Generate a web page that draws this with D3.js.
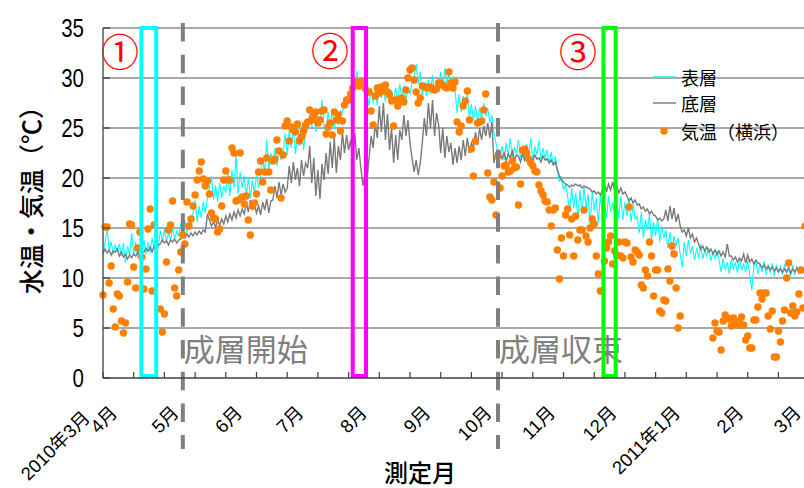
<!DOCTYPE html>
<html>
<head>
<meta charset="utf-8">
<script src="https://cdn.jsdelivr.net/npm/d3@7"></script>
<style>
  html, body { margin: 0; padding: 0; background: #fff; }
  svg { display: block; }
  text { font-family: "Liberation Sans", "Noto Sans CJK JP", sans-serif; }
  .jp { font-family: "Noto Sans CJK JP", "Liberation Sans", sans-serif; }
</style>
</head>
<body>
<svg id="chart" width="804" height="488"></svg>
<script>
// Daily readings starting 2010-03-24 (index 0), one value per day.
const startDate = new Date(2010, 2, 24);
const endDate = new Date(2011, 2, 1, 12);

// 表層 (surface water temperature, °C)
const surfaceTemp = [
  12.6,13.5,15.0,12.8,13.6,12.4,13.3,12.7,
  13.4,12.2,13.5,11.5,13.2,12.3,14.5,12.4,13.6,12.0,13.4,12.6,
  13.8,12.4,13.6,12.5,14.0,12.8,13.5,13.0,
  14.8,13.6,14.9,13.5,14.6,13.8,15.0,13.9,14.7,14.2,
  15.5,14.2,15.8,14.5,
  16.0,15.0,16.5,17.8,15.6,17.2,16.0,17.6,16.5,
  18.0,19.0,20.2,17.8,19.3,17.6,19.5,18.0,19.2,
  18.5,20.5,18.2,20.8,19.0,22.3,18.4,20.6,19.0,
  20.2,18.2,20.0,18.0,19.8,18.5,20.4,19.0,
  20.2,22.0,20.5,23.8,20.8,22.5,
  21.5,23.0,21.2,22.8,21.8,
  22.6,24.5,22.3,24.8,23.0,25.0,22.4,24.2,23.2,25.2,22.8,24.6,
  24.8,26.5,25.0,26.8,24.6,26.2,25.2,27.8,25.0,
  24.8,26.6,25.0,26.8,24.9,26.4,25.3,26.7,
  26.5,27.6,27.0,28.2,
  28.8,30.2,29.0,30.7,29.2,30.0,28.9,29.8,
  28.5,27.2,29.0,27.5,28.8,27.3,29.2,28.0,
  29.0,27.6,29.2,27.8,28.8,27.5,29.0,
  27.8,29.4,28.0,29.2,27.6,29.0,28.4,29.5,
  30.2,31.4,29.4,30.6,
  28.0,29.6,28.2,29.8,28.4,30.3,28.6,29.8,
  29.0,30.6,29.2,31.0,29.4,30.5,28.9,30.2,
  28.8,26.5,28.4,26.6,28.2,27.0,28.5,
  26.0,27.4,25.8,27.2,25.6,27.0,25.9,27.5,26.2,27.0,25.5,26.3,
  24.5,23.5,22.6,
  22.0,23.2,21.8,23.5,22.2,24.0,21.9,23.0,22.4,23.8,22.0,23.2,
  21.6,23.4,22.0,24.0,21.8,23.2,22.3,23.8,21.7,23.0,22.0,22.8,21.4,22.6,21.3,22.2,
  20.8,19.6,20.2,18.8,19.4,
  18.2,16.6,19.0,17.0,18.5,15.8,18.8,16.4,19.2,17.0,18.4,15.2,18.6,16.8,18.0,15.5,18.2,
  16.4,17.8,16.0,18.2,16.6,17.6,16.2,
  17.8,16.0,18.2,15.8,17.6,16.2,18.0,15.6,17.4,15.9,
  16.2,14.5,16.6,14.0,15.8,14.8,16.4,13.8,15.6,14.2,16.0,13.6,15.2,14.0,
  14.8,13.0,14.6,12.6,14.2,13.2,14.0,12.4,11.0,13.6,12.2,13.8,12.4,
  13.2,11.8,13.0,12.0,13.3,11.9,12.8,12.2,13.0,11.7,12.6,12.0,12.8,
  11.8,10.6,12.0,10.8,11.6,10.4,11.9,10.9,11.5,10.5,12.0,10.8,11.4,10.6,11.8,10.2,8.8,11.2,
  11.6,10.4,11.4,10.6,11.7,10.3,11.2,10.5,11.5,10.2,11.3,10.6,
  11.2,10.3,11.4,10.5,11.0,10.2,11.3,10.4,11.1,10.6,10.9,10.5
];

// 底層 (bottom water temperature, °C)
const bottomTemp = [
  12.4,12.9,12.5,12.8,12.3,12.7,12.6,12.9,
  12.2,12.6,12.1,12.4,11.9,12.3,12.0,12.4,12.2,12.6,12.3,12.7,
  12.6,13.0,12.7,13.1,12.6,13.2,12.9,13.3,
  13.4,13.8,13.5,13.7,13.3,13.8,13.6,13.9,13.5,13.8,
  13.9,14.2,14.0,14.4,14.1,14.5,14.2,14.6,14.3,
  14.7,14.4,14.8,14.6,
  16.3,
  15.8,15.2,15.6,15.1,15.7,15.3,15.9,15.4,
  16.2,15.6,16.4,15.8,16.6,16.0,16.8,16.2,16.9,
  16.4,17.5,16.6,17.8,16.9,17.4,16.5,17.2,
  16.3,17.6,16.8,17.9,16.5,17.7,
  17.8,19.2,18.0,19.6,18.3,19.4,18.6,
  19.0,21.2,19.5,21.6,19.8,21.0,19.2,21.8,20.2,21.5,
  21.0,23.2,19.5,22.0,18.2,20.8,17.9,21.4,19.8,
  22.5,20.4,23.6,21.0,24.0,20.5,23.2,21.8,
  24.5,22.5,24.3,22.8,
  23.8,22.0,24.5,21.8,23.0,
  21.0,19.2,20.5,19.8,
  22.0,24.2,23.0,25.5,
  24.0,27.2,24.6,27.5,23.8,26.4,
  22.8,25.0,21.5,24.3,21.8,24.8,
  23.8,26.3,24.2,25.8,23.5,
  22.0,20.6,21.8,20.3,21.5,
  23.5,26.0,24.2,27.5,25.0,27.8,24.2,26.5,
  25.3,22.5,25.0,22.0,24.2,22.6,
  23.5,21.3,23.0,21.5,23.2,21.8,
  23.8,22.2,24.0,22.5,23.5,
  23.0,24.6,23.3,25.0,23.8,25.2,24.2,
  25.5,24.0,25.6,
  21.5,22.6,
  21.8,22.6,21.9,22.5,21.7,22.4,22.0,22.7,21.8,22.3,
  22.2,21.6,22.4,21.8,22.3,21.6,22.1,21.7,22.3,21.9,22.0,21.6,22.2,21.8,21.9,21.5,21.8,21.3,21.6,
  20.8,20.2,19.8,19.6,19.4,
  19.3,19.1,19.3,19.2,19.4,19.2,19.3,19.0,19.2,19.1,19.0,
  18.9,18.6,18.7,18.4,18.6,18.3,18.8,
  19.5,18.6,19.4,18.8,19.6,18.7,19.2,18.5,19.0,18.4,18.6,
  18.2,17.7,18.0,17.5,17.8,17.3,
  17.4,16.9,17.1,16.7,16.9,16.4,16.7,16.3,
  16.2,15.8,16.0,15.7,15.9,
  16.8,15.7,17.2,15.9,17.0,15.6,16.4,
  15.2,14.6,14.8,14.2,15.0,14.0,14.4,13.6,14.0,
  13.4,12.9,13.2,12.7,13.1,12.6,12.9,12.4,12.8,12.3,12.7,12.2,12.6,12.1,
  13.4,12.2,
  12.2,11.8,12.1,11.6,12.0,11.7,12.4,11.5,12.3,11.6,11.9,11.4,11.8,11.5,
  11.4,11.0,11.3,10.9,11.2,10.8,11.1,10.7,11.0,10.6,10.9,10.6,10.9,
  10.6,11.0,10.5,10.9,10.6,11.0,10.5,10.8,10.6
];

// 気温（横浜） daily air temperature, °C (null = no reading)
const airTemp = [
  8.3,15.1,15.1,9.5,11.2,6.9,5.1,8.4,8.2,5.7,
  4.5,5.5,9.6,15.4,15.3,11.1,9.0,13.0,14.6,12.1,
  8.9,10.9,14.9,16.9,8.7,15.3,null,null,6.9,4.6,
  6.4,11.6,14.8,15.3,17.7,9.0,8.2,10.8,12.6,14.3,
  13.4,17.6,15.2,15.9,17.2,18.3,19.8,20.7,21.6,19.9,
  19.2,19.7,18.4,16.5,16.0,15.9,14.6,14.9,17.2,19.8,
  20.7,19.8,19.8,23.0,22.5,17.7,17.8,22.5,18.1,17.4,
  18.2,15.8,14.3,17.2,17.5,18.4,20.6,21.7,19.6,20.6,
  22.0,20.6,18.8,21.7,21.9,23.8,22.7,18.0,22.3,25.2,
  25.7,23.7,25.1,24.8,24.6,25.4,23.7,24.1,24.7,25.3,
  25.6,26.8,25.8,26.2,26.6,25.5,25.8,26.7,26.8,24.4,
  25.1,25.5,24.3,26.6,25.8,26.3,24.7,25.7,27.3,27.8,
  27.8,28.4,29.0,29.7,29.6,29.2,29.6,29.6,29.0,28.6,
  28.6,26.7,25.3,28.2,29.0,28.5,29.1,28.7,29.3,28.6,
  28.3,27.7,25.2,27.8,27.2,27.9,28.0,27.6,28.8,30.0,
  30.8,31.0,29.8,28.6,27.5,28.0,29.2,29.1,29.1,29.0,
  29.1,28.9,28.8,28.9,29.5,29.5,29.3,29.1,29.0,30.6,
  29.5,29.0,29.6,25.6,24.6,25.2,27.2,27.7,28.7,25.8,
  22.9,20.2,23.7,25.5,25.6,25.7,26.8,28.4,20.5,18.1,
  17.8,19.6,16.3,22.2,19.0,20.2,21.2,21.3,20.6,20.7,
  21.7,21.0,21.1,17.3,19.4,22.8,22.9,22.5,21.9,21.5,
  21.2,20.7,20.6,19.3,18.7,18.3,17.7,17.6,16.8,15.2,
  16.8,17.0,12.8,9.9,14.0,12.2,16.3,16.9,14.3,15.9,
  12.2,16.2,13.8,14.8,14.8,16.8,14.2,13.6,15.0,15.9,
  15.4,12.2,10.4,8.7,null,11.7,13.0,13.6,14.2,11.4,
  12.7,12.3,13.6,12.2,12.0,13.6,13.5,17.1,12.1,11.6,
  12.8,12.6,12.3,9.3,9.0,10.8,10.2,13.6,12.2,8.2,
  10.8,10.8,6.7,6.5,7.8,7.7,10.9,9.7,13.2,12.4,
  9.0,5.0,6.2,null,null,null,null,null,null,null,
  null,null,null,null,null,null,null,null,4.0,5.5,
  4.7,4.6,2.8,5.7,6.3,6.0,5.9,5.2,6.0,5.4,
  5.3,5.7,6.1,5.3,3.8,4.2,3.0,3.0,5.8,5.8,
  7.1,8.5,7.9,8.5,8.5,6.2,4.9,6.7,2.1,2.1,
  4.7,3.6,5.7,6.8,10.0,11.5,6.5,7.2,6.2,6.6,
  8.4,10.8,7.0,15.2
];

// Axis text
const yTicks = [0, 5, 10, 15, 20, 25, 30, 35];
const monthLabels = ["2010年3月","4月","5月","6月","7月","8月","9月","10月","11月","12月","2011年1月","2月","3月"];
const monthDates = ["2010-03-24","2010-04-01","2010-05-01","2010-06-01","2010-07-01","2010-08-01","2010-09-01",
                    "2010-10-01","2010-11-01","2010-12-01","2011-01-01","2011-02-01","2011-03-01"];

// Stratification start / end markers
const phaseDates = ["2010-05-02", "2010-10-03"];
const phaseLabels = ["成層開始", "成層収束"];

// Highlighted periods ① ② ③
const periodLabels = ["①", "②", "③"];
const periodStarts = ["2010-04-11T18:00", "2010-07-24T00:00", "2010-11-23T12:00"];
const periodEnds   = ["2010-04-19T00:00", "2010-07-30T12:00", "2010-11-29T12:00"];
const periodColors = ["#00ffff", "#ff00ff", "#00ff00"];

const seriesNames = ["表層", "底層", "気温（横浜）"];

const parseD = s => new Date(s.length > 10 ? s : s + "T00:00");
const dayDate = i => d3.timeDay.offset(startDate, i);

const svg = d3.select("#chart");
const plot = { left: 103, right: 804, top: 28, bottom: 378 };

const x = d3.scaleTime().domain([startDate, endDate]).range([plot.left, plot.right]);
const y = d3.scaleLinear().domain([0, 35]).range([plot.bottom, plot.top]);

// Horizontal gridlines
svg.append("g").selectAll("line").data(yTicks.filter(t => t > 0)).join("line")
  .attr("x1", plot.left).attr("x2", plot.right)
  .attr("y1", d => y(d)).attr("y2", d => y(d))
  .attr("stroke", "#8c8c8c").attr("stroke-width", 1.3);

// Phase annotation text
svg.append("g").selectAll("text").data(phaseDates).join("text")
  .attr("class", "jp")
  .attr("x", d => x(parseD(d)) + 1)
  .attr("y", y(1.7))
  .attr("font-size", 31)
  .attr("fill", "#7f7f7f")
  .text((d, i) => phaseLabels[i]);

// Series lines
const line = d3.line().defined(v => v != null)
  .x((v, i) => x(dayDate(i))).y(v => y(v));

svg.append("path").datum(surfaceTemp)
  .attr("d", line).attr("fill", "none")
  .attr("stroke", "#00ffff").attr("stroke-width", 1.1);

svg.append("path").datum(bottomTemp)
  .attr("d", line).attr("fill", "none")
  .attr("stroke", "#7a7a7a").attr("stroke-width", 1.4);

// Air temperature points
svg.append("g").selectAll("circle")
  .data(airTemp.map((v, i) => ({ v, i })).filter(d => d.v != null))
  .join("circle")
  .attr("cx", d => x(dayDate(d.i)))
  .attr("cy", d => y(d.v))
  .attr("r", 3.7)
  .attr("fill", "#ff7f00");

// Dashed phase lines
svg.append("g").selectAll("line").data(phaseDates).join("line")
  .attr("x1", d => x(parseD(d))).attr("x2", d => x(parseD(d)))
  .attr("y1", y(35.5)).attr("y2", 449)
  .attr("stroke", "#808080").attr("stroke-width", 4)
  .attr("stroke-dasharray", "18.5,13.2");

// Period rectangles
svg.append("g").selectAll("rect").data(periodStarts).join("rect")
  .attr("x", d => x(parseD(d)))
  .attr("width", (d, i) => x(parseD(periodEnds[i])) - x(parseD(d)))
  .attr("y", y(35))
  .attr("height", y(0.2) - y(35))
  .attr("fill", "none")
  .attr("stroke", (d, i) => periodColors[i])
  .attr("stroke-width", 4);

// Circled period numbers
const numPos = [[120, 49], [330, 48], [578, 49]];
svg.append("g").selectAll("text").data(periodLabels).join("text")
  .attr("class", "jp")
  .attr("x", (d, i) => numPos[i][0]).attr("y", (d, i) => numPos[i][1])
  .attr("text-anchor", "middle").attr("dominant-baseline", "central")
  .attr("font-size", 38).attr("fill", "#ff0000")
  .text(d => d);

// Axes lines
svg.append("line").attr("x1", plot.left).attr("x2", plot.left)
  .attr("y1", plot.top).attr("y2", plot.bottom)
  .attr("stroke", "#595959").attr("stroke-width", 1.5);
svg.append("line").attr("x1", plot.left).attr("x2", plot.right)
  .attr("y1", plot.bottom).attr("y2", plot.bottom)
  .attr("stroke", "#404040").attr("stroke-width", 1.5);

// Y ticks (inside) and labels
svg.append("g").selectAll("line").data(yTicks).join("line")
  .attr("x1", plot.left).attr("x2", plot.left + 7)
  .attr("y1", d => y(d)).attr("y2", d => y(d))
  .attr("stroke", "#404040").attr("stroke-width", 1.3);

svg.append("g").selectAll("g").data(yTicks).join("g")
  .attr("transform", d => `translate(84,${y(d)}) scale(0.82,1)`)
  .append("text")
  .attr("text-anchor", "end").attr("dominant-baseline", "central")
  .attr("font-size", 25).attr("fill", "#000")
  .text(d => d);

// X ticks every 15 days (inside)
const xTickDays = d3.range(0, 343, 15);
svg.append("g").selectAll("line").data(xTickDays).join("line")
  .attr("x1", d => x(dayDate(d))).attr("x2", d => x(dayDate(d)))
  .attr("y1", plot.bottom).attr("y2", plot.bottom - 6)
  .attr("stroke", "#404040").attr("stroke-width", 1.2);

// Month labels, rotated
svg.append("g").selectAll("text").data(monthLabels).join("text")
  .attr("transform", (d, i) => {
    const px = x(parseD(monthDates[i])) + (i === 0 ? -12 : -1);
    const py = i === 0 ? 419 : 414;
    return `translate(${px},${py}) rotate(-45)`;
  })
  .attr("text-anchor", "end")
  .attr("font-size", 18.5).attr("fill", "#000")
  .text(d => d);

// Axis titles
svg.append("text").attr("class", "jp")
  .attr("transform", "translate(30,194) rotate(-90)")
  .attr("text-anchor", "middle").attr("dominant-baseline", "central")
  .attr("font-size", 25).attr("font-weight", 500).attr("fill", "#000")
  .text("水温・気温（℃）");

svg.append("text").attr("class", "jp")
  .attr("x", 420).attr("y", 471)
  .attr("text-anchor", "middle").attr("dominant-baseline", "central")
  .attr("font-size", 24).attr("font-weight", 500).attr("fill", "#000")
  .text("測定月");

// Legend
const legend = svg.append("g");
const legendY = [77, 103, 131];
legend.append("line").attr("x1", 653).attr("x2", 676).attr("y1", legendY[0]).attr("y2", legendY[0])
  .attr("stroke", "#00ffff").attr("stroke-width", 1.5);
legend.append("line").attr("x1", 653).attr("x2", 676).attr("y1", legendY[1]).attr("y2", legendY[1])
  .attr("stroke", "#808080").attr("stroke-width", 1.5);
legend.append("circle").attr("cx", 664).attr("cy", legendY[2]).attr("r", 3.7).attr("fill", "#ff7f00");
legend.selectAll("text").data(seriesNames).join("text")
  .attr("class", "jp")
  .attr("x", 681).attr("y", (d, i) => legendY[i])
  .attr("dominant-baseline", "central")
  .attr("font-size", 18).attr("fill", "#000")
  .text(d => d);
</script>
</body>
</html>
